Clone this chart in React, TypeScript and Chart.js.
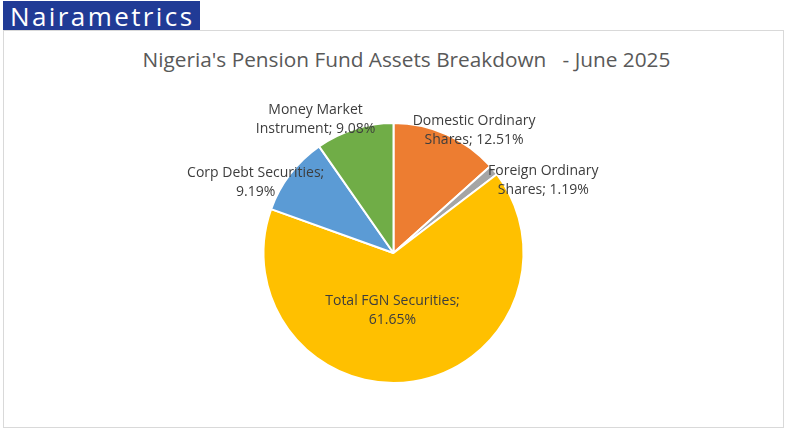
import React, { useEffect, useRef } from 'react';
import { Chart, ArcElement, PieController } from 'chart.js';

Chart.register(ArcElement, PieController);

const categories = [
    'Domestic Ordinary Shares',
    'Foreign Ordinary Shares',
    'Total FGN Securities',
    'Corp Debt Securities',
    'Money Market Instrument'
];
const shares = [12.51, 1.19, 61.65, 9.19, 9.08];
const colors = ['#ED7D31', '#A5A5A5', '#FFC000', '#5B9BD5', '#70AD47'];

// how many words go on the first line of each data label
const firstLineWords = [2, 2, 3, 3, 2];
// where Excel put each label: radius factor and clockwise shift (deg) from the slice middle
const labelRadius = [1.13, 1.28, 0.44, 1.19, 1.19];
const labelShift = [9.2, 13.8, 9.8, -10.4, -12.8];

const FONT = '"Open Sans", Lato, sans-serif';

const pieLabels = {
    id: 'pieLabels',
    afterDatasetsDraw(chart) {
        const { ctx } = chart;
        const arcs = chart.getDatasetMeta(0).data;
        ctx.save();
        ctx.font = `14px ${FONT}`;
        ctx.fillStyle = '#3d3d3d';
        ctx.textAlign = 'center';
        ctx.textBaseline = 'middle';
        arcs.forEach((arc, i) => {
            const { x, y, startAngle, endAngle, outerRadius } = arc.getProps(
                ['x', 'y', 'startAngle', 'endAngle', 'outerRadius'], true);
            const a = (startAngle + endAngle) / 2 + labelShift[i] * Math.PI / 180;
            const r = outerRadius * labelRadius[i];
            const lx = x + r * Math.cos(a);
            const ly = y + r * Math.sin(a);
            const words = `${categories[i]}; ${shares[i].toFixed(2)}%`.split(' ');
            const lines = [
                words.slice(0, firstLineWords[i]).join(' '),
                words.slice(firstLineWords[i]).join(' ')
            ];
            ctx.fillText(lines[0], lx, ly - 9.5);
            ctx.fillText(lines[1], lx, ly + 9.5);
        });
        ctx.restore();
    }
};

function PieChart() {
    const canvas = useRef(null);

    useEffect(() => {
        const chart = new Chart(canvas.current, {
            type: 'pie',
            data: {
                labels: categories,
                datasets: [{
                    data: shares,
                    backgroundColor: colors,
                    borderColor: '#ffffff',
                    borderWidth: 2
                }]
            },
            options: {
                animation: false,
                responsive: true,
                maintainAspectRatio: false,
                layout: { padding: { top: 91, bottom: 43 } },
                plugins: {
                    legend: { display: false },
                    tooltip: { enabled: false }
                }
            },
            plugins: [pieLabels]
        });
        return () => {
            chart.destroy();
        };
    }, []);

    return <canvas ref={canvas}></canvas>;
}

export default function App() {
    return (
        <div style={{ position: 'fixed', left: 0, top: 0, width: 786, height: 431, background: '#fff' }}>
            <div style={{
                position: 'absolute', left: 3, top: 1, width: 197, height: 29,
                background: '#213b96', color: '#fff', fontFamily: '"Open Sans", sans-serif',
                fontSize: 26, lineHeight: '30px', paddingLeft: 7, boxSizing: 'border-box',
                letterSpacing: 2.4, whiteSpace: 'nowrap', overflow: 'hidden'
            }}>Nairametrics</div>
            <div style={{
                position: 'absolute', left: 3, top: 30, width: 781, height: 398,
                border: '1px solid #d9d9d9', boxSizing: 'border-box'
            }}>
                <div style={{
                    position: 'absolute', left: 0, right: 0, top: 14, textAlign: 'center',
                    paddingLeft: 26, fontFamily: FONT, fontSize: 20.8, color: '#595959',
                    whiteSpace: 'pre'
                }}>{"Nigeria's Pension Fund Assets Breakdown   - June 2025"}</div>
                <div style={{ position: 'absolute', left: 0, top: 0, width: 779, height: 396 }}>
                    <PieChart />
                </div>
            </div>
        </div>
    );
}
